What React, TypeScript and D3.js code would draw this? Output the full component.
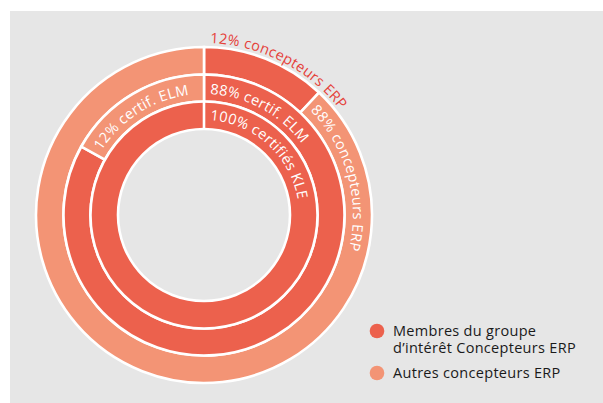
import React from "react";
import * as d3 from "d3";

const rings = ["outer", "middle", "inner"];
const outerValues = [12, 88];
const middleValues = [83.1, 16.9];
const innerValues = [100];
const outerLabels = ["12% concepteurs ERP", "88% concepteurs ERP"];
const middleLabels = ["88% certif. ELM", "12% certif. ELM"];
const innerLabels = ["100% certifiés KLE"];
const outerGroups = [0, 1];
const middleGroups = [0, 1];
const innerGroups = [0];
const legendLines = [["Membres du groupe", "d’intérêt Concepteurs ERP"], ["Autres concepteurs ERP"]];

const W = 603;
const H = 403;
const cx = 204;
const cy = 215;
const colors = ["#EC614D", "#F39475"];
const FONT = "'Open Sans', sans-serif";
const FS = 14.5;
const LS = 0.3;

const radii: Record<string, [number, number]> = {
  outer: [140.5, 168],
  middle: [113.5, 140.5],
  inner: [86, 113.5],
};

const labelR: Record<string, number[]> = {
  outer: [172, 149],
  middle: [121, 121],
  inner: [95],
};

function circlePath(r: number, a0: number) {
  const pts = d3.range(0, 361, 2).map((deg) => {
    const a = a0 + (deg * Math.PI) / 180;
    return [r * Math.sin(a), -r * Math.cos(a)] as [number, number];
  });
  return d3.line()(pts) as string;
}

export default function App() {
  const pie = d3.pie<number>().sort(null).value((d) => d);
  const data: Record<string, { values: number[]; labels: string[]; groups: number[] }> = {
    outer: { values: outerValues, labels: outerLabels, groups: outerGroups },
    middle: { values: middleValues, labels: middleLabels, groups: middleGroups },
    inner: { values: innerValues, labels: innerLabels, groups: innerGroups },
  };
  return (
    <svg width={W} height={H} style={{ position: "absolute", left: 0, top: 0 }}>
      <rect x={10} y={11} width={W - 10} height={H - 11} fill="#e6e6e6" />
      <g transform={`translate(${cx},${cy})`}>
        {rings.map((ring) => {
          const arcs = pie(data[ring].values);
          const arc = d3.arc<d3.PieArcDatum<number>>().innerRadius(radii[ring][0]).outerRadius(radii[ring][1]);
          return (
            <g key={ring}>
              {arcs.map((a, i) => (
                <path key={i} d={arc(a) as string} fill={colors[data[ring].groups[i]]} stroke="#fff" strokeWidth={2.6} />
              ))}
              {ring === "inner" && (
                <line x1={0} x2={0} y1={-radii.inner[0]} y2={-radii.inner[1]} stroke="#fff" strokeWidth={2.6} />
              )}
            </g>
          );
        })}
        <defs>
          {rings.map((ring) =>
            pie(data[ring].values).map((a, i) => {
              const r = labelR[ring][i];
              const off = 6 / r;
              return <path key={`${ring}${i}`} id={`lp-${ring}-${i}`} d={circlePath(r, a.startAngle + off)} fill="none" />;
            })
          )}
        </defs>
        {rings.map((ring) =>
          data[ring].labels.map((lab, i) => (
            <text
              key={`${ring}t${i}`}
              fontFamily={FONT}
              fontSize={FS}
              letterSpacing={LS}
              fill={ring === "outer" && i === 0 ? "#E5413A" : "#fff"}
            >
              <textPath href={`#lp-${ring}-${i}`}>{lab}</textPath>
            </text>
          ))
        )}
      </g>
      {legendLines.map((lines, i) => {
        const y = i === 0 ? 331 : 373;
        return (
          <g key={i}>
            <circle cx={377} cy={y} r={7.3} fill={colors[i]} />
            <text x={393} y={y + 4.5} fontFamily={FONT} fontSize={FS} letterSpacing={LS} fill="#1a1a1a">
              {lines.map((l, j) => (
                <tspan key={j} x={393} dy={j === 0 ? 0 : 17}>
                  {l}
                </tspan>
              ))}
            </text>
          </g>
        );
      })}
    </svg>
  );
}
